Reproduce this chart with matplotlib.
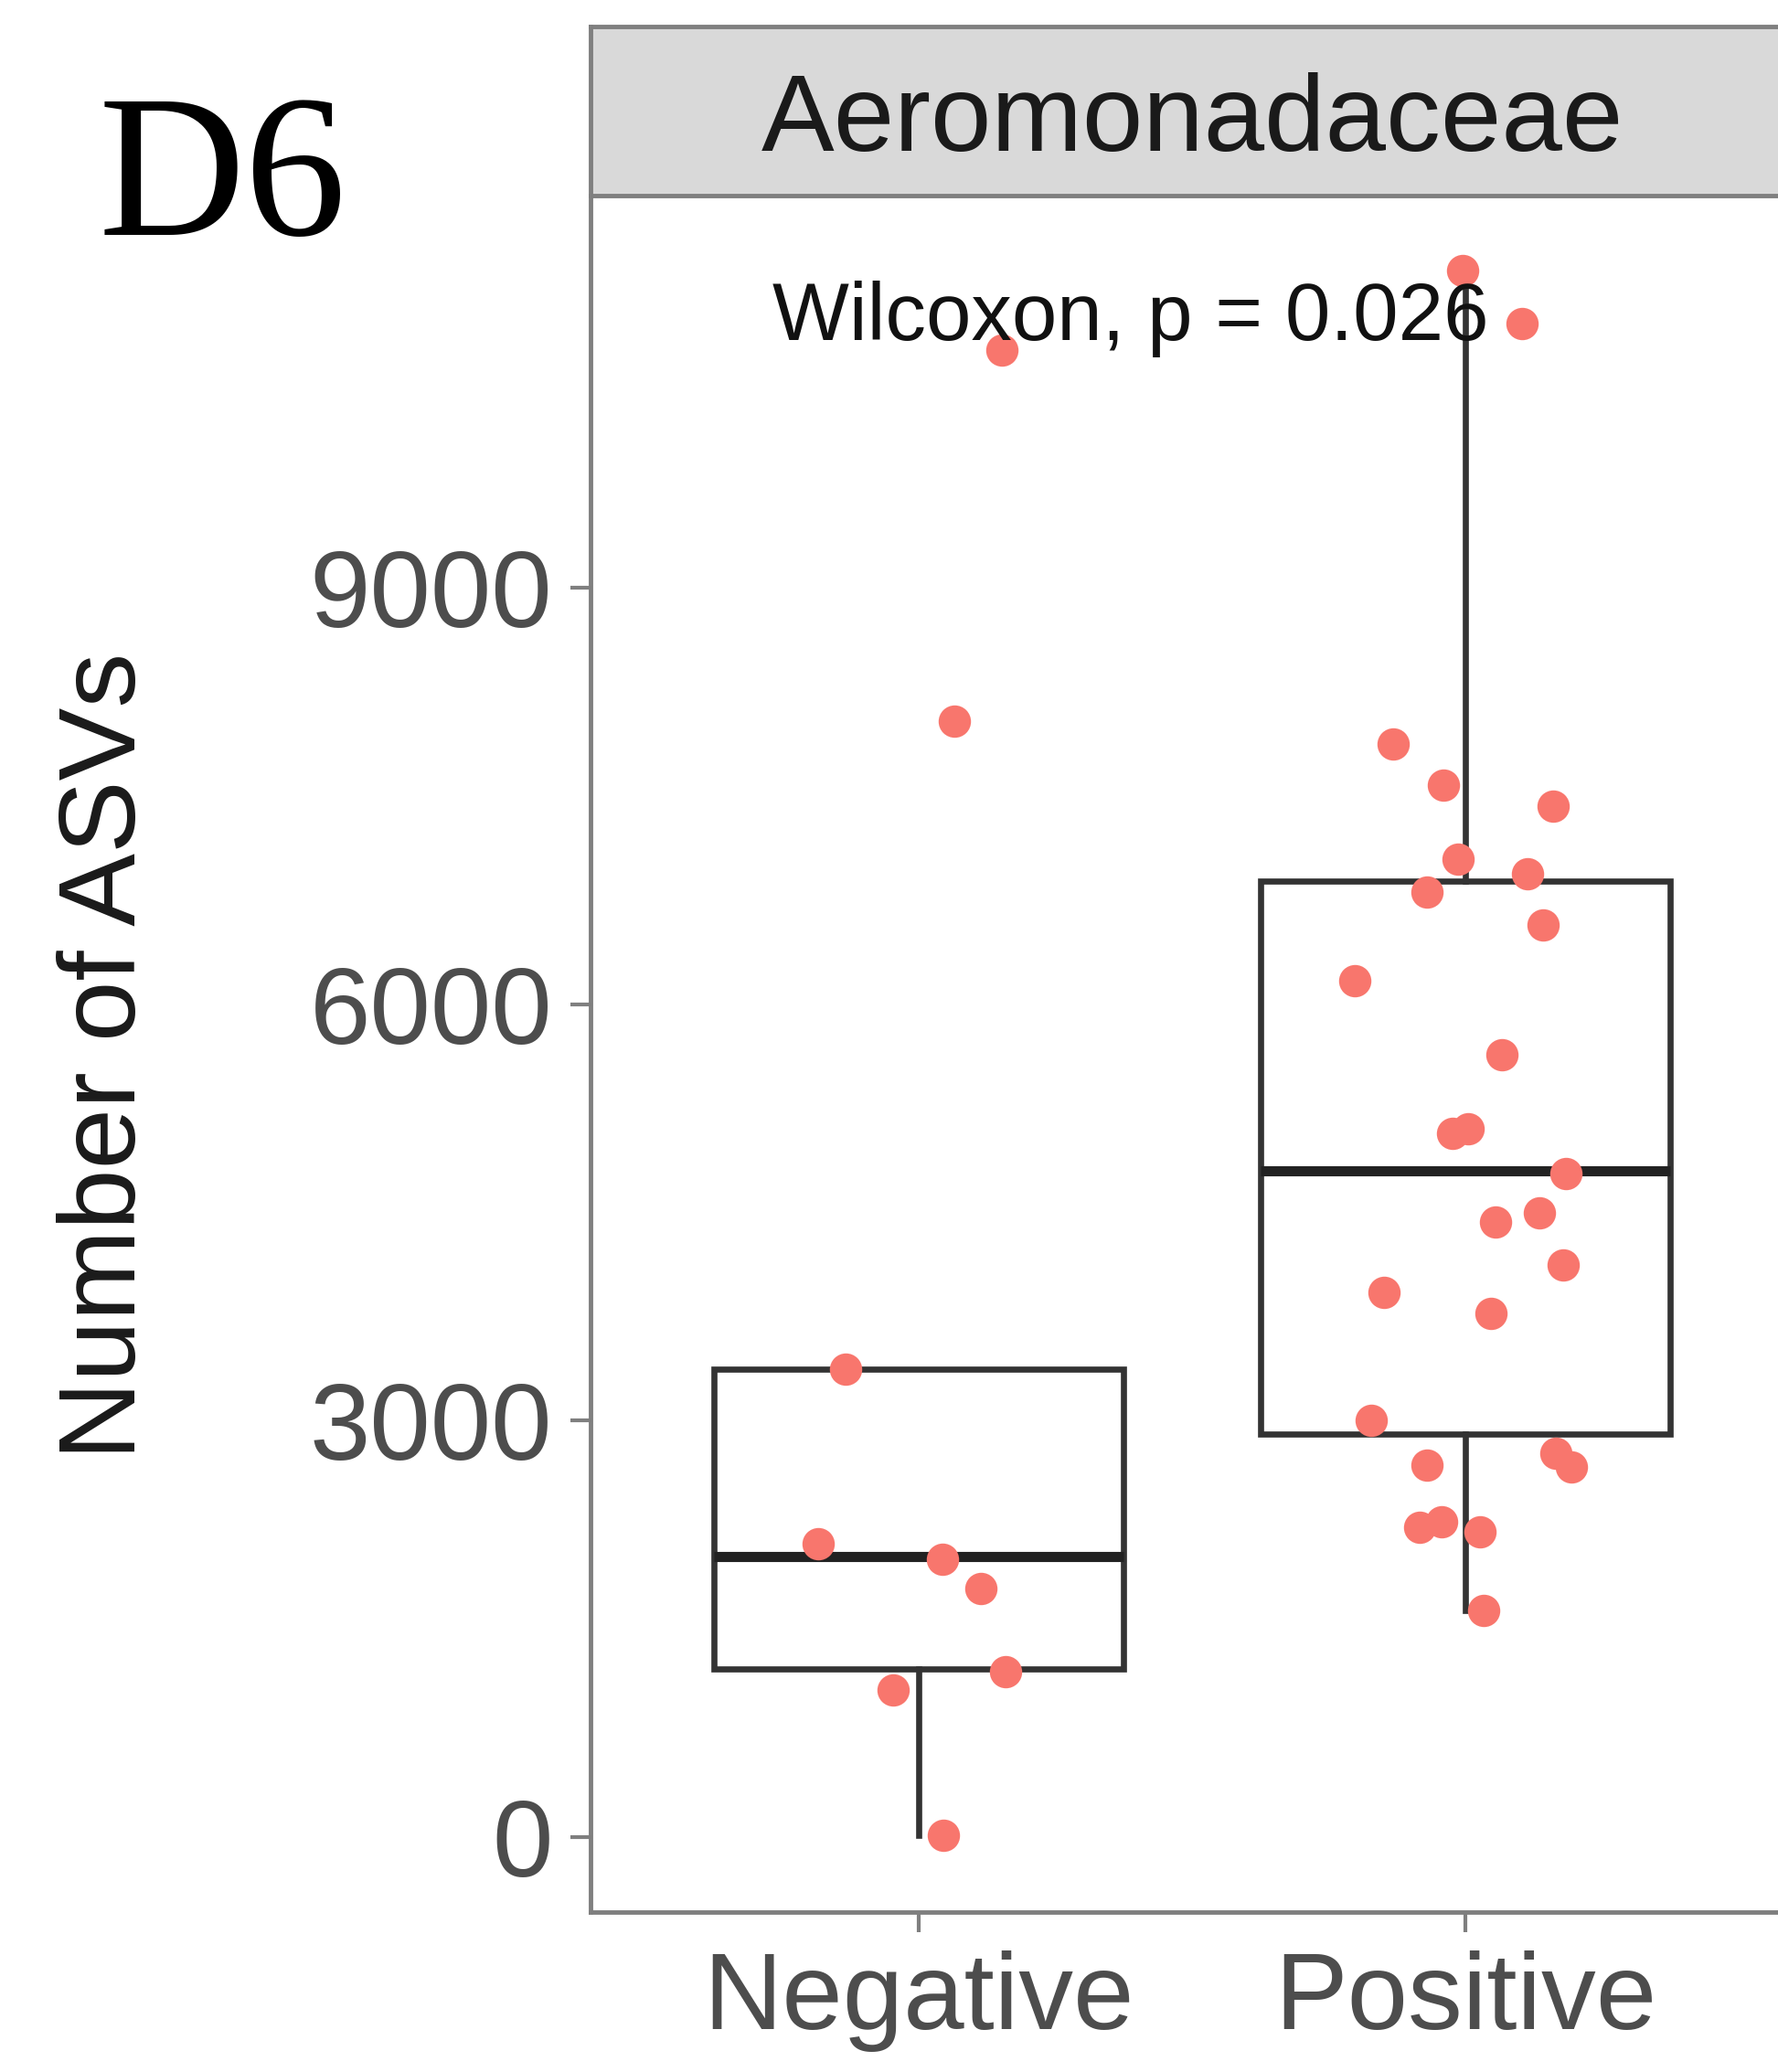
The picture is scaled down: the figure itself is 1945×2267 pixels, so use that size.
import numpy as np
import matplotlib
matplotlib.use("Agg")
import matplotlib.pyplot as plt

plt.rcParams['font.family'] = ['Liberation Sans', 'DejaVu Sans']

# data
groups = ["Negative", "Positive"]
neg_vals = [3371, 2114, 2000, 1790, 1190, 1057, 10, 8038, 10714]
neg_jit = [-0.133, -0.183, 0.043, 0.113, 0.159, -0.046, 0.046, 0.065, 0.152]
pos_vals = [11286, 10905, 7876, 7581, 7429, 7048, 6810, 6943, 6571, 6171, 5638,
            5067, 5105, 4781, 4429, 4495, 4124, 3924, 3771, 3000, 2676, 2762,
            2667, 2229, 2267, 2200, 1629]
pos_jit = [-0.005, 0.104, -0.133, -0.041, 0.161, -0.014, -0.07, 0.113, 0.142,
           -0.202, 0.067, -0.024, 0.005, 0.183, 0.055, 0.135, 0.178, -0.149,
           0.046, -0.173, -0.07, 0.166, 0.193, -0.084, -0.043, 0.027, 0.034]
# box stats (q1, median, q3, whisker low, whisker high)
box_stats = {
    "Negative": dict(q1=1210, med=2019, q3=3371, whislo=10, whishi=3371),
    "Positive": dict(q1=2905, med=4800, q3=6886, whislo=1629, whishi=11286),
}
yticks = [0, 3000, 6000, 9000]
p_label = "Wilcoxon, p = 0.026"
facet = "Aeromonadaceae"

W, H = 1945, 2267
fig = plt.figure(figsize=(W / 100, H / 100), dpi=100)

ax_l, ax_r = 646 / W, 1962 / W
ax_b, ax_t = 1 - 2092 / H, 1 - 214 / H
ax = fig.add_axes([ax_l, ax_b, ax_r - ax_l, ax_t - ax_b])

grey = "#7f7f7f"
boxc = "#333333"

stats = []
for g in groups:
    s = dict(box_stats[g])
    s["fliers"] = []
    stats.append(s)
ax.bxp(stats, positions=[1, 2], widths=0.75, showfliers=False, showcaps=False,
       patch_artist=True,
       boxprops=dict(facecolor="white", edgecolor=boxc, linewidth=4.8),
       whiskerprops=dict(color=boxc, linewidth=4.8),
       medianprops=dict(color="#222222", linewidth=8), zorder=2)

ax.scatter(1 + np.array(neg_jit), neg_vals, s=650, color="#F8766D", zorder=3, linewidths=0)
ax.scatter(2 + np.array(pos_jit), pos_vals, s=650, color="#F8766D", zorder=3, linewidths=0)

ax.text(1.388, 10790, p_label, ha="center", va="baseline", fontsize=64, color="#111111", zorder=4)

ax.set_xlim(0.4, 2.6)
ax.set_ylim(-543, 11829)
ax.set_xticks([1, 2])
ax.set_xticklabels(groups)
ax.set_yticks(yticks)
ax.set_yticklabels([str(v) for v in yticks])
ax.tick_params(axis="both", length=16, width=3, color=grey, labelsize=86,
               labelcolor="#4d4d4d", pad=14)
for side in ["top", "right"]:
    ax.spines[side].set_visible(False)
for side in ["left", "bottom"]:
    ax.spines[side].set_color(grey)
    ax.spines[side].set_linewidth(3.5)

# facet strip
st_b = 1 - 214 / H
st_t = 1 - 29 / H
sax = fig.add_axes([ax_l, st_b, ax_r - ax_l, st_t - st_b])
sax.set_facecolor("#d9d9d9")
sax.set_xticks([])
sax.set_yticks([])
for side in sax.spines:
    sax.spines[side].set_color(grey)
    sax.spines[side].set_linewidth(3.5)
sax.text(0.5, 0.43, facet, ha="center", va="center", fontsize=86, color="#1a1a1a",
         transform=sax.transAxes)

fig.text(118 / W, 1 - 1155 / H, "Number of ASVs", rotation=90, ha="center", va="center",
         fontsize=86, color="#1a1a1a")
fig.text(108 / W, 1 - 257 / H, "D6", ha="left", va="baseline", fontsize=160,
         family="Liberation Serif", color="black")

fig.savefig("out.png", dpi=100)
